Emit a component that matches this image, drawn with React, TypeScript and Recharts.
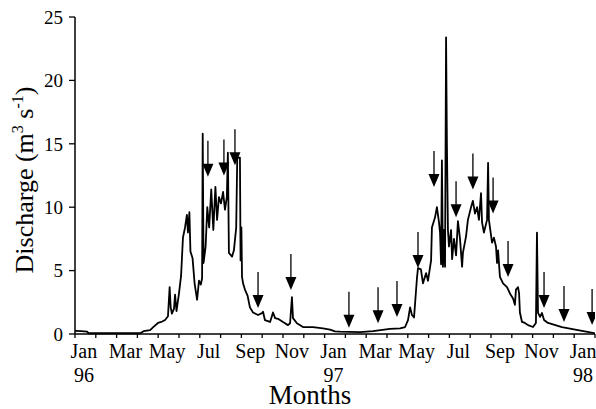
import React from "react";
import { ComposedChart, Line, Scatter, XAxis, YAxis } from "recharts";

const FONT = "'Liberation Serif', 'Times New Roman', serif";

// Discharge record: [months since 1 Jan 1996, discharge in m3/s]
const DISCHARGE: [number, number][] = [
  [0, 0.25], [0.3, 0.22], [0.58, 0.18], [0.65, 0.06], [3.13, 0.06], [3.3, 0.22],
  [3.61, 0.3], [3.8, 0.6], [3.99, 0.87], [4.15, 0.95], [4.33, 1.1], [4.47, 1.4],
  [4.55, 3.7], [4.6, 2.1], [4.66, 1.6], [4.76, 2.0], [4.81, 3.1], [4.88, 1.8],
  [5.0, 3.2], [5.1, 4.6], [5.19, 7.6], [5.29, 8.4], [5.38, 9.4], [5.43, 8.0],
  [5.5, 9.6], [5.55, 6.5], [5.65, 6.0], [5.75, 4.0], [5.87, 2.7], [5.96, 4.2],
  [6.05, 3.9], [6.11, 4.4], [6.14, 15.8], [6.18, 5.6], [6.28, 6.9], [6.36, 10.0],
  [6.45, 8.4], [6.55, 11.4], [6.65, 8.2], [6.75, 11.6], [6.83, 9.0], [6.92, 10.8],
  [7.02, 10.3], [7.12, 11.2], [7.21, 9.8], [7.3, 10.8], [7.35, 14.3], [7.4, 6.4],
  [7.55, 6.1], [7.64, 6.6], [7.75, 8.4], [7.8, 13.9], [7.93, 13.9], [7.96, 5.8],
  [8.0, 8.4], [8.03, 4.5], [8.08, 4.0], [8.17, 3.5], [8.3, 3.0], [8.41, 2.1],
  [8.56, 1.7], [8.8, 1.5], [8.99, 1.65], [9.04, 1.75], [9.13, 1.1], [9.38, 0.95],
  [9.52, 1.7], [9.62, 1.25], [9.76, 1.2], [10.0, 0.95], [10.24, 0.7], [10.34, 0.85],
  [10.43, 2.9], [10.48, 1.25], [10.67, 0.85], [10.96, 0.55], [11.44, 0.55], [11.92, 0.45],
  [12.26, 0.35], [12.5, 0.2], [12.74, 0.18], [13.7, 0.15], [14.33, 0.22], [15.14, 0.4],
  [15.63, 0.45], [15.87, 0.55], [16.01, 1.1], [16.11, 2.1], [16.2, 1.5], [16.3, 1.3],
  [16.44, 4.4], [16.49, 5.2], [16.63, 5.1], [16.73, 4.0], [16.88, 4.8], [16.97, 4.2],
  [17.12, 5.8], [17.16, 8.4], [17.31, 9.2], [17.4, 10.0], [17.5, 8.8], [17.55, 8.0],
  [17.6, 5.5], [17.64, 13.7], [17.69, 5.3], [17.74, 8.2], [17.79, 5.3], [17.84, 23.4],
  [17.88, 15.0], [17.93, 8.2], [17.98, 6.9], [18.08, 8.2], [18.13, 5.9], [18.22, 7.5],
  [18.32, 6.2], [18.41, 8.9], [18.51, 7.5], [18.61, 5.3], [18.65, 6.4], [18.8, 7.7],
  [18.89, 9.0], [19.04, 10.0], [19.13, 10.5], [19.23, 9.5], [19.33, 10.0], [19.42, 9.0],
  [19.52, 11.1], [19.57, 8.8], [19.66, 8.0], [19.81, 9.0], [19.86, 13.5], [19.9, 9.0],
  [20.05, 7.2], [20.14, 7.6], [20.24, 6.9], [20.29, 5.6], [20.34, 6.6], [20.43, 4.5],
  [20.58, 4.0], [20.77, 3.7], [20.91, 3.2], [21.06, 2.8], [21.15, 2.3], [21.2, 3.5],
  [21.3, 3.7], [21.35, 3.2], [21.39, 1.7], [21.49, 0.95], [21.63, 0.87], [21.78, 0.7],
  [22.02, 0.55], [22.16, 0.87], [22.21, 8.0], [22.26, 1.66], [22.36, 1.35], [22.45, 1.66],
  [22.55, 1.1], [22.74, 0.87], [23.41, 0.55], [24.18, 0.3], [24.9, 0.08], [25, 0.05],
];

// sampling dates (months since 1 Jan 1996) and discharge on those days
const SAMPLE_MONTHS = [
  6.39, 7.16, 7.69, 8.8, 10.38, 13.17, 14.57, 15.48, 16.49,
  17.26, 18.32, 19.13, 20.1, 20.82, 22.55, 23.51, 24.86,
];
const SAMPLE_VALUES = [
  12.4, 12.5, 13.3, 2.05, 3.47, 0.5, 0.85, 1.35, 5.2,
  11.6, 9.2, 11.4, 9.5, 4.5, 2.05, 0.95, 0.7,
];

const MONTH_LABELS = ["Jan", "Mar", "May", "Jul", "Sep", "Nov", "Jan", "Mar", "May", "Jul", "Sep", "Nov", "Jan"];
const YEAR_LABELS = ["96", "", "", "", "", "", "97", "", "", "", "", "", "98"];
const Y_TICKS = [0, 5, 10, 15, 20, 25];

const lineData = DISCHARGE.map(([m, v]) => ({ m, v }));
const sampleData = SAMPLE_MONTHS.map((m, i) => ({ m, v: SAMPLE_VALUES[i] }));

// tick marks on every month start, labels centred on every other month
const monthTicks = Array.from({ length: 26 }, (_, i) => i);
const labelTicks = MONTH_LABELS.map((_, i) => i * 2 + 0.5);
const xTicks = [...monthTicks, ...labelTicks].sort((a, b) => a - b);

function MonthTick(props: any) {
  const { x, y, payload } = props;
  const v = payload.value as number;
  if (Number.isInteger(v)) {
    return <line x1={x} y1={y} x2={x} y2={y + 4} stroke="#000" strokeWidth={1.3} />;
  }
  const i = (v - 0.5) / 2;
  const cx = x - 1.5;
  return (
    <g fontFamily={FONT} fontSize={20} fill="#000">
      <text x={cx} y={y + 23.5} textAnchor="middle">{MONTH_LABELS[i]}</text>
      {YEAR_LABELS[i] ? (
        <text x={cx} y={y + 47.5} textAnchor="middle">{YEAR_LABELS[i]}</text>
      ) : null}
    </g>
  );
}

function SampleArrow(props: any) {
  const { cx, cy } = props;
  return (
    <g>
      <line x1={cx} y1={cy - 36} x2={cx} y2={cy - 12} stroke="#000" strokeWidth={1.3} />
      <polygon points={`${cx - 5.5},${cy - 13} ${cx + 5.5},${cy - 13} ${cx},${cy}`} fill="#000" />
    </g>
  );
}

export default function App() {
  return (
    <div style={{ position: "absolute", left: 0, top: 0, width: 596, height: 409 }}>
      <ComposedChart
        width={596}
        height={409}
        margin={{ top: 17, right: 1, left: 0, bottom: 0 }}
      >
        <XAxis
          type="number"
          dataKey="m"
          domain={[0, 25]}
          ticks={xTicks}
          interval={0}
          tick={<MonthTick />}
          tickLine={false}
          tickSize={0}
          tickMargin={0}
          height={75}
          axisLine={{ stroke: "#000", strokeWidth: 1.5 }}
          allowDataOverflow
          label={{
            content: () => (
              <text x={310} y={404} textAnchor="middle" fontFamily={FONT} fontSize={27} fill="#000">
                Months
              </text>
            ),
          }}
        />
        <YAxis
          type="number"
          domain={[0, 25]}
          ticks={Y_TICKS}
          width={75}
          tickSize={6}
          tickMargin={6}
          tick={{ fill: "#000", fontSize: 19, fontFamily: FONT }}
          tickLine={{ stroke: "#000", strokeWidth: 1.3 }}
          axisLine={{ stroke: "#000", strokeWidth: 1.5 }}
          label={{
            content: () => (
              <text
                x={33}
                y={180}
                transform="rotate(-90 33 180)"
                textAnchor="middle"
                fontFamily={FONT}
                fontSize={26}
                fill="#000"
              >
                Discharge (m<tspan fontSize={16} dy={-10}>3</tspan>
                <tspan dy={10}> s</tspan>
                <tspan fontSize={16} dy={-10}>-1</tspan>
                <tspan dy={10}>)</tspan>
              </text>
            ),
          }}
        />
        <Line
          data={lineData}
          dataKey="v"
          type="linear"
          stroke="#000"
          strokeWidth={1.8}
          strokeLinejoin="round"
          dot={false}
          activeDot={false}
          isAnimationActive={false}
        />
        <Scatter
          data={sampleData}
          dataKey="v"
          shape={<SampleArrow />}
          isAnimationActive={false}
        />
      </ComposedChart>
    </div>
  );
}
